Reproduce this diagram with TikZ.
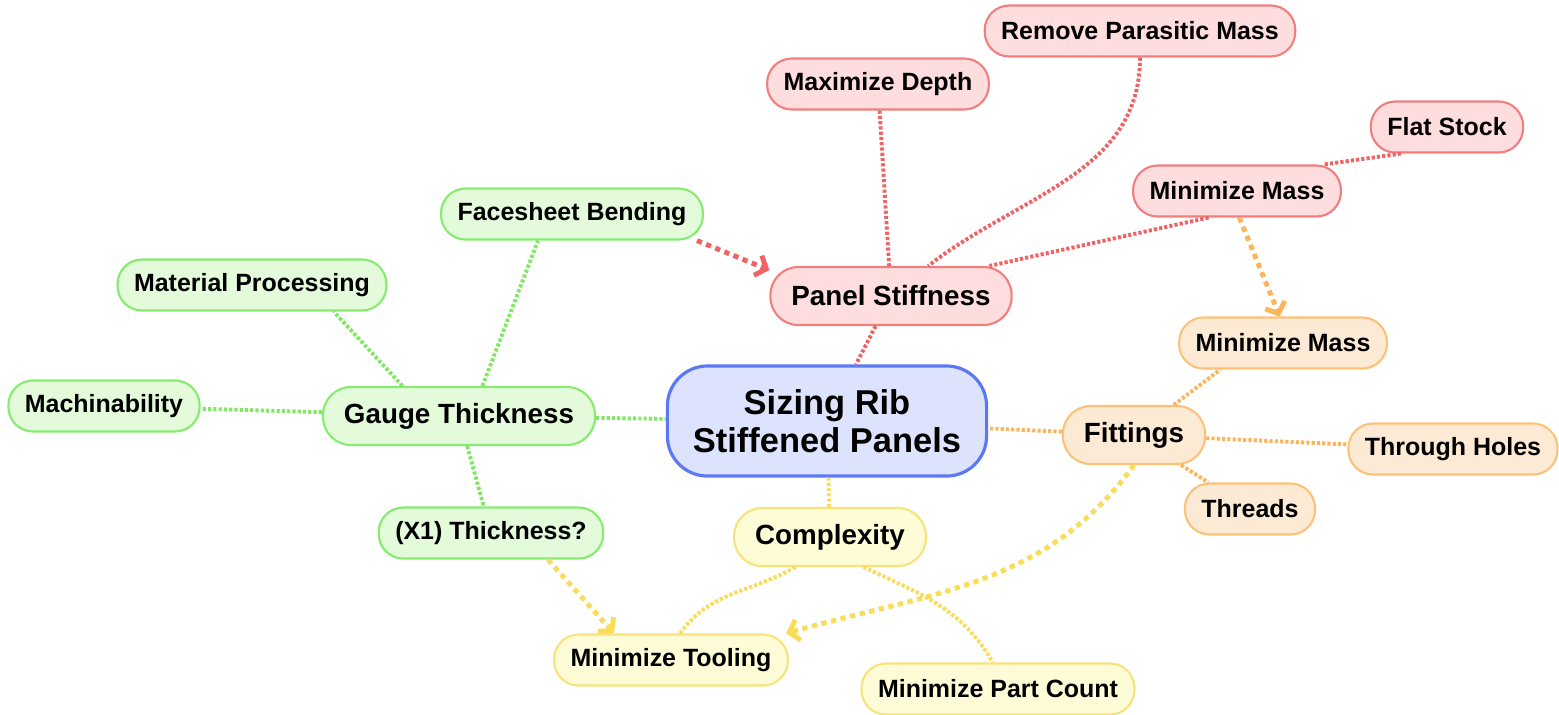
\documentclass[tikz,border=0pt]{standalone}
\usepackage{fontspec}
\setmainfont{Liberation Sans}
\usetikzlibrary{%
  arrows.meta,%
  calc%
}

\definecolor{bfill}{HTML}{DDE3FC}
\definecolor{bline}{HTML}{5B78F5}
\definecolor{rfill}{HTML}{FDDDDE}
\definecolor{rline}{HTML}{F08080}
\definecolor{rlink}{HTML}{EE6464}
\definecolor{gfill}{HTML}{E3FBDB}
\definecolor{gline}{HTML}{86EC70}
\definecolor{glink}{HTML}{80E862}
\definecolor{ofill}{HTML}{FDEAD4}
\definecolor{oline}{HTML}{FCC27A}
\definecolor{olink}{HTML}{FBB65C}
\definecolor{yfill}{HTML}{FEFCD6}
\definecolor{yline}{HTML}{F8E27A}
\definecolor{ylink}{HTML}{F9DC58}

\begin{document}
\begin{tikzpicture}
  [
  x=0.01cm, y=-0.01cm, line width=0.6pt, >={Straight Barb[length=2.6pt,width=6pt]},
  topic/.style={rectangle, draw, text=black},
  root/.style={topic, align=center, minimum width=31.9mm, minimum height=11mm, rounded corners=4mm,
    draw=bline, fill=bfill, line width=0.9pt, font=\fontsize{9.8}{10.8}\selectfont\bfseries},
  branch/.style={topic, minimum height=5.8mm, inner xsep=2.1mm, rounded corners=2.8mm,
    font=\fontsize{7.9}{9}\selectfont\bfseries},
  leaf/.style={topic, minimum height=5.1mm, inner xsep=1.65mm, rounded corners=2.45mm,
    font=\fontsize{7.1}{8.5}\selectfont\bfseries},
  rnode/.style={draw=rline, fill=rfill},
  gnode/.style={draw=gline, fill=gfill},
  onode/.style={draw=oline, fill=ofill},
  ynode/.style={draw=yline, fill=yfill},
  dot/.style={line width=1.1pt, dash pattern=on 0.9pt off 0.6pt},
  jump/.style={->, line width=1.4pt, dash pattern=on 1.5pt off 1.3pt}
  ]

\useasboundingbox (0,0) rectangle (1559,714);

\node[root] (root) at (827,421) {Sizing Rib\\Stiffened Panels};

\node[branch, rnode] (ps) at (891,296) {Panel Stiffness};
\node[leaf, rnode] (md) at (878,84) {Maximize Depth};
\node[leaf, rnode] (rpm) at (1140,31) {Remove Parasitic Mass};
\node[leaf, rnode] (fs) at (1447,127) {Flat Stock};
\node[leaf, rnode] (mmr) at (1237,191) {Minimize Mass};

\node[branch, gnode] (gt) at (459,416) {Gauge Thickness};
\node[leaf, gnode] (fsb) at (572,214) {Facesheet Bending};
\node[leaf, gnode] (mp) at (252,285) {Material Processing};
\node[leaf, gnode] (mach) at (104,406) {Machinability};
\node[leaf, gnode] (x1) at (491,533) {(X1) Thickness?};

\node[branch, ynode] (cx) at (830,537) {Complexity};
\node[leaf, ynode] (mt) at (671,660) {Minimize Tooling};
\node[leaf, ynode] (mpc) at (998,689) {Minimize Part Count};

\node[branch, onode] (fit) at (1134,435) {Fittings};
\node[leaf, onode] (mmo) at (1283,343) {Minimize Mass};
\node[leaf, onode] (th) at (1453,449) {Through Holes};
\node[leaf, onode] (thr) at (1250,509) {Threads};

\foreach \a/\b in {ps/root, md/ps, mmr.-137/ps.17, fs.-150/mmr.17} {
  \draw[dot, rlink] (\a) -- (\b);
}
\draw[dot, rlink] (rpm.south) to[out=-90, in=38] (ps.39);

\foreach \a/\b in {gt/root, gt/mach, gt.152/mp.-18, gt.52/fsb.-142, gt/x1} {
  \draw[dot, glink] (\a) -- (\b);
}

\foreach \a/\b in {fit/root, fit/mmo.-157, fit/th, fit/thr} {
  \draw[dot, olink] (\a) -- (\b);
}

\draw[dot, ylink] (cx) -- (root);
\draw[dot, ylink] (cx.-139) to[out=210, in=55] (mt.71);
\draw[dot, ylink] (cx.-42) to[out=-25, in=120] (mpc.101);

\draw[jump, rlink] (fsb.-12) -- (ps.168);
\draw[jump, olink] (mmr.-85) -- (mmo.97);
\draw[jump, ylink] (x1.-25) -- (mt.155);
\draw[jump, ylink] (fit.south) to[out=-126, in=16] (mt.13);
\end{tikzpicture}
\end{document}
